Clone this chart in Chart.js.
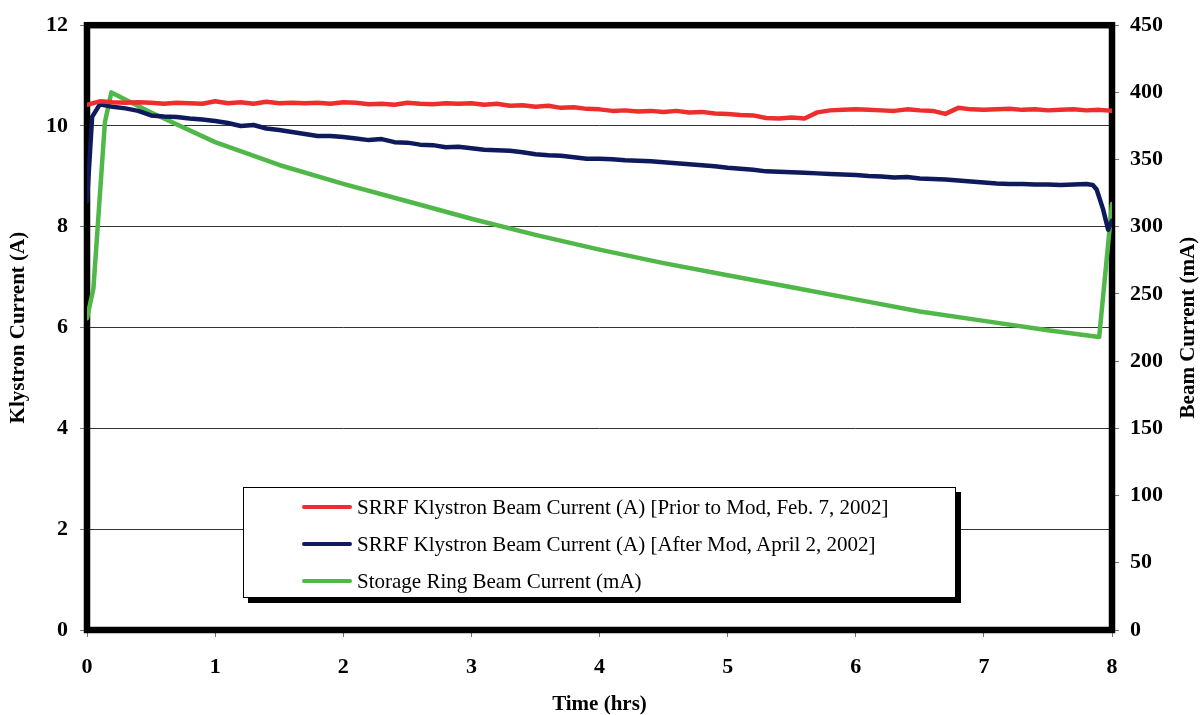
<!DOCTYPE html>
<html>
<head>
<meta charset="utf-8">
<title>Klystron Beam Current</title>
<script src="https://cdn.jsdelivr.net/npm/chart.js@4.4.1/dist/chart.umd.min.js"></script>
<style>
  body { margin: 0; background: #fff; }
  #wrap { position: relative; width: 1204px; height: 715px; }
  #legend {
    position: absolute; left: 243px; top: 487px; width: 711px; height: 109px;
    background: #fff; border: 1px solid #000; box-shadow: 5px 5px 0 #000;
    font-family: 'Liberation Serif', 'Times New Roman', serif; font-size: 21px; color: #000;
  }
  .item { position: absolute; left: 58px; height: 24px; display: flex; align-items: center; white-space: nowrap; }
  .swatch { width: 50px; height: 4px; margin-right: 5px; border-radius: 2px; }
</style>
</head>
<body>
<div id="wrap">
  <canvas id="chart" width="1204" height="715"></canvas>
  <div id="legend"></div>
</div>
<script>
'use strict';

// ── Data ─────────────────────────────────────────────────────────────────────
const seriesNames = [
  'SRRF Klystron Beam Current (A) [Prior to Mod, Feb. 7, 2002]',
  'SRRF Klystron Beam Current (A) [After Mod, April 2, 2002]',
  'Storage Ring Beam Current (mA)',
];
const seriesColors = ['#ee2d2d', '#0e1a5c', '#50b848'];

// Prior to mod (A), every 0.1 h
const redTimes = [
  0, 0.1, 0.2, 0.3, 0.4, 0.5, 0.6, 0.7, 0.8, 0.9,
  1, 1.1, 1.2, 1.3, 1.4, 1.5, 1.6, 1.7, 1.8, 1.9,
  2, 2.1, 2.2, 2.3, 2.4, 2.5, 2.6, 2.7, 2.8, 2.9,
  3, 3.1, 3.2, 3.3, 3.4, 3.5, 3.6, 3.7, 3.8, 3.9,
  4, 4.1, 4.2, 4.3, 4.4, 4.5, 4.6, 4.7, 4.8, 4.9,
  5, 5.1, 5.2, 5.3, 5.4, 5.5, 5.6, 5.7, 5.8, 5.9,
  6, 6.1, 6.2, 6.3, 6.4, 6.5, 6.6, 6.7, 6.8, 6.9,
  7, 7.1, 7.2, 7.3, 7.4, 7.5, 7.6, 7.7, 7.8, 7.9, 8,
];
const redValues = [
  10.42, 10.49, 10.47, 10.46, 10.47, 10.46, 10.44, 10.46, 10.45, 10.44,
  10.49, 10.45, 10.47, 10.44, 10.48, 10.45, 10.46, 10.45, 10.46, 10.44,
  10.47, 10.46, 10.43, 10.44, 10.42, 10.46, 10.44, 10.43, 10.45, 10.44,
  10.45, 10.42, 10.44, 10.40, 10.41, 10.38, 10.40, 10.36, 10.37, 10.34,
  10.33, 10.30, 10.31, 10.29, 10.30, 10.28, 10.30, 10.27, 10.28, 10.25,
  10.24, 10.22, 10.21, 10.16, 10.15, 10.17, 10.15, 10.27, 10.31, 10.32,
  10.33, 10.32, 10.31, 10.30, 10.33, 10.31, 10.30, 10.24, 10.36, 10.33,
  10.32, 10.33, 10.34, 10.32, 10.33, 10.31, 10.32, 10.33, 10.31, 10.32, 10.30,
];

// After mod (A)
const blueTimes = [
  0, 0.04, 0.1, 0.2, 0.3, 0.4, 0.5, 0.6, 0.7, 0.8, 0.9,
  1, 1.1, 1.2, 1.3, 1.4, 1.5, 1.6, 1.7, 1.8, 1.9,
  2, 2.1, 2.2, 2.3, 2.4, 2.5, 2.6, 2.7, 2.8, 2.9,
  3, 3.1, 3.2, 3.3, 3.4, 3.5, 3.6, 3.7, 3.8, 3.9,
  4, 4.1, 4.2, 4.3, 4.4, 4.5, 4.6, 4.7, 4.8, 4.9,
  5, 5.1, 5.2, 5.3, 5.4, 5.5, 5.6, 5.7, 5.8, 5.9,
  6, 6.1, 6.2, 6.3, 6.4, 6.5, 6.6, 6.7, 6.8, 6.9,
  7, 7.1, 7.2, 7.3, 7.4, 7.5, 7.6, 7.7, 7.8, 7.85, 7.88, 7.93, 7.97, 8,
];
const blueValues = [
  8.50, 10.18, 10.43, 10.38, 10.35, 10.30, 10.21, 10.19, 10.18, 10.15, 10.13,
  10.10, 10.06, 10.00, 10.02, 9.95, 9.92, 9.88, 9.84, 9.80, 9.80,
  9.78, 9.75, 9.72, 9.74, 9.68, 9.67, 9.63, 9.62, 9.58, 9.59,
  9.56, 9.53, 9.52, 9.51, 9.48, 9.44, 9.42, 9.41, 9.38, 9.35,
  9.35, 9.34, 9.32, 9.31, 9.30, 9.28, 9.26, 9.24, 9.22, 9.20,
  9.17, 9.15, 9.13, 9.10, 9.09, 9.08, 9.07, 9.06, 9.05, 9.04,
  9.03, 9.01, 9.00, 8.98, 8.99, 8.96, 8.95, 8.94, 8.92, 8.90,
  8.88, 8.86, 8.85, 8.85, 8.84, 8.84, 8.83, 8.84, 8.85, 8.83, 8.74, 8.35, 7.94, 8.12,
];

// Storage ring beam current (mA), right axis
const greenTimes  = [0, 0.05, 0.14, 0.19, 0.5, 1, 1.5, 2, 2.5, 3, 3.5, 4, 4.5, 5, 5.5, 6, 6.5, 7, 7.5, 7.9, 8];
const greenValues = [232, 254, 378, 400, 385, 363, 346, 332, 319, 306, 294, 283, 273, 264, 255, 246, 237, 230, 223, 218, 317];

const leftTicks  = { min: 0, max: 12, step: 2 };
const rightTicks = { min: 0, max: 450, step: 50 };
const timeTicks  = { min: 0, max: 8, step: 1 };

// ── Helpers ──────────────────────────────────────────────────────────────────
const FONT = "'Liberation Serif', 'Times New Roman', serif";
const pts = (xs, ys) => xs.map((x, i) => ({ x, y: ys[i] }));

function line(label, data, color, axis) {
  return {
    label, data, yAxisID: axis,
    borderColor: color, borderWidth: 4.5,
    pointRadius: 0, tension: 0,
    borderJoinStyle: 'round', borderCapStyle: 'round',
  };
}

// thick frame round the plot + right title drawn upright like the left one
const frame = {
  id: 'frame',
  beforeDatasetsDraw(chart) {
    const { ctx, chartArea: a } = chart;
    ctx.save();
    ctx.lineWidth = 6.5;
    ctx.strokeStyle = '#000';
    ctx.strokeRect(a.left, a.top, a.right - a.left, a.bottom - a.top);
    ctx.restore();
  },
  afterDraw(chart) {
    const { ctx, chartArea: a } = chart;
    ctx.save();
    ctx.translate(1189, (a.top + a.bottom) / 2);
    ctx.rotate(-Math.PI / 2);
    ctx.font = 'bold 21px ' + FONT;
    ctx.fillStyle = '#000';
    ctx.textAlign = 'center';
    ctx.textBaseline = 'middle';
    ctx.fillText('Beam Current (mA)', 0, 0);
    ctx.restore();
  },
};

const tickFont = { family: FONT, size: 22, weight: 'bold' };

// ── Chart ────────────────────────────────────────────────────────────────────
new Chart(document.getElementById('chart').getContext('2d'), {
  type: 'line',
  data: {
    datasets: [
      line(seriesNames[0], pts(redTimes, redValues), seriesColors[0], 'y'),
      line(seriesNames[1], pts(blueTimes, blueValues), seriesColors[1], 'y'),
      line(seriesNames[2], pts(greenTimes, greenValues), seriesColors[2], 'y1'),
    ],
  },
  options: {
    responsive: false,
    animation: false,
    layout: { padding: { top: 20, left: 0, right: 0, bottom: 0 } },
    plugins: { legend: { display: false }, tooltip: { enabled: false } },
    scales: {
      x: {
        type: 'linear',
        min: timeTicks.min, max: timeTicks.max,
        afterFit: s => { s.height = 85; },
        ticks: { stepSize: timeTicks.step, color: '#000', font: tickFont, padding: 17, maxRotation: 0 },
        grid: { drawOnChartArea: false, tickLength: 7, tickColor: '#777' },
        border: { display: false },
        title: {
          display: true, text: 'Time (hrs)', color: '#000',
          font: { family: FONT, size: 21, weight: 'bold', lineHeight: 1 },
          padding: { top: 0, bottom: 0 },
        },
      },
      y: {
        position: 'left',
        min: leftTicks.min, max: leftTicks.max,
        afterFit: s => { s.width = 87; },
        ticks: { stepSize: leftTicks.step, color: '#000', font: tickFont, padding: 12 },
        grid: { color: '#333', lineWidth: 1, tickLength: 7, tickColor: '#777' },
        border: { display: false },
        title: {
          display: true, text: 'Klystron Current (A)', color: '#000',
          font: { family: FONT, size: 21, weight: 'bold', lineHeight: 1 },
          padding: { top: 8, bottom: 0 },
        },
      },
      y1: {
        position: 'right',
        min: rightTicks.min, max: rightTicks.max,
        afterFit: s => { s.width = 92; },
        ticks: { stepSize: rightTicks.step, color: '#000', font: tickFont, padding: 11 },
        grid: { drawOnChartArea: false, tickLength: 7, tickColor: '#777' },
        border: { display: false },
      },
    },
  },
  plugins: [frame],
});

// ── Legend box (inside the plot, with drop shadow) ───────────────────────────
const legendEl = document.getElementById('legend');
const rowTops = [7, 44, 81];
legendEl.innerHTML = seriesNames.map((name, i) => `
  <div class="item" style="top:${rowTops[i]}px">
    <span class="swatch" style="background:${seriesColors[i]}"></span>
    <span>${name}</span>
  </div>
`).join('');
</script>
</body>
</html>
